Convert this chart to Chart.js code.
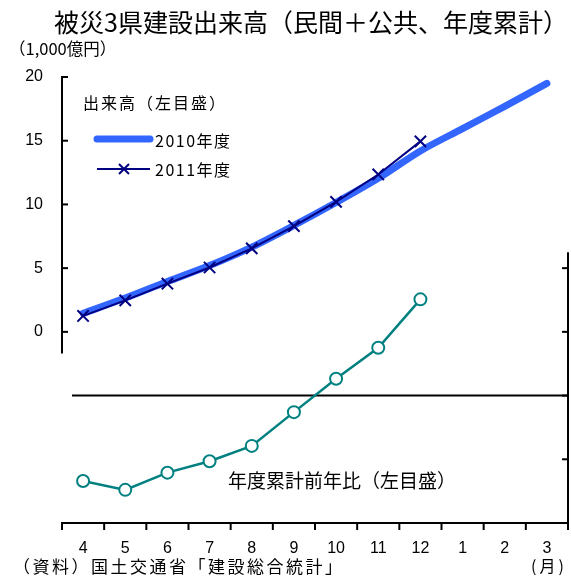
<!DOCTYPE html>
<html>
<head>
<meta charset="utf-8">
<script src="https://cdn.jsdelivr.net/npm/chart.js@4.4.1/dist/chart.umd.min.js"></script>
<style>
  html, body { margin: 0; padding: 0; background: #fff; }
  #wrap { position: relative; width: 571px; height: 582px; }
  .t { position: absolute; font-family: "Noto Sans CJK JP", sans-serif; color: #000; line-height: 1; white-space: nowrap; }
</style>
</head>
<body>
<div id="wrap">
  <canvas id="chart" width="571" height="582"></canvas>
  <div class="t" style="left:54px;top:9px;font-size:25px;">被災3県建設出来高（民間＋公共、年度累計）</div>
  <div class="t" style="left:9px;top:40px;font-size:16.5px;">（1,000億円）</div>
  <div class="t" style="left:83px;top:94px;font-size:16px;letter-spacing:2px;">出来高（左目盛）</div>
  <div class="t" style="left:155px;top:132px;font-size:16px;letter-spacing:1.5px;">2010年度</div>
  <div class="t" style="left:155px;top:161px;font-size:16px;letter-spacing:1.5px;">2011年度</div>
  <div class="t" style="left:228px;top:470px;font-size:19px;">年度累計前年比（左目盛）</div>
  <div class="t" style="left:13px;top:557px;font-size:17px;letter-spacing:2.5px;">（資料）国土交通省「建設総合統計」</div>
  <div class="t" style="left:531px;top:557px;font-size:16px;letter-spacing:3px;">(月)</div>
</div>
<script>
// Months of the fiscal year (April to March)
const MONTHS = ['4', '5', '6', '7', '8', '9', '10', '11', '12', '1', '2', '3'];

// Cumulative construction output, 1,000 oku yen (left scale)
const FY2010 = [1.45, 2.65, 3.95, 5.2, 6.65, 8.35, 10.15, 12.05, 14.2, 15.95, 17.7, 19.5];
const FY2011 = [1.25, 2.47, 3.78, 5.05, 6.55, 8.3, 10.2, 12.35, 14.95, null, null, null];

// Year-on-year change of the cumulative total, % (lower, unlabeled scale)
const YOY = [-13.4, -14.8, -12.1, -10.3, -7.9, -2.6, 2.65, 7.5, 15.1, null, null, null];

// Tick values
const Y_TICKS = [0, 5, 10, 15, 20];
const Y2_TICKS = [-20, -10, 0, 10, 20];

/**
 * Axis frame drawn by hand: the left scale only spans the upper block,
 * the right scale only the lower block, ticks point inward.
 */
const framePlugin = {
    id: 'frame',
    beforeDatasetsDraw(chart) {
        const { ctx, chartArea: a, scales: { y, y2 } } = chart;
        const line = (x1, y1, x2, y2_) => {
            ctx.beginPath();
            ctx.moveTo(x1, y1);
            ctx.lineTo(x2, y2_);
            ctx.stroke();
        };
        ctx.save();
        ctx.strokeStyle = '#000';
        ctx.lineWidth = 2;

        // left axis (upper part)
        line(a.left, y.getPixelForValue(20) - 1, a.left, y.getPixelForValue(-1.7));
        Y_TICKS.forEach(v => {
            const p = y.getPixelForValue(v);
            line(a.left, p, a.left + 6, p);
        });

        // right axis (lower part)
        line(a.right, y2.getPixelForValue(22.5), a.right, a.bottom);
        Y2_TICKS.forEach(v => {
            const p = y2.getPixelForValue(v);
            line(a.right - 6, p, a.right, p);
        });

        // zero line of the year-on-year series
        const z = y2.getPixelForValue(0);
        line(a.left + 10, z, a.right, z);

        // category axis
        line(a.left - 1, a.bottom, a.right + 1, a.bottom);
        const step = a.width / MONTHS.length;
        for (let i = 0; i <= MONTHS.length; i++) {
            const px = a.left + i * step;
            line(px, a.bottom, px, a.bottom + 7);
        }
        ctx.restore();
    },
    afterDatasetsDraw(chart) {
        // legend samples
        const ctx = chart.ctx;
        ctx.save();
        ctx.lineCap = 'round';
        ctx.strokeStyle = '#3366FF';
        ctx.lineWidth = 7;
        ctx.beginPath();
        ctx.moveTo(97, 139);
        ctx.lineTo(150, 139);
        ctx.stroke();

        ctx.lineCap = 'butt';
        ctx.strokeStyle = '#000080';
        ctx.lineWidth = 2;
        ctx.beginPath();
        ctx.moveTo(97, 169);
        ctx.lineTo(150, 169);
        ctx.moveTo(119, 164);
        ctx.lineTo(129, 174);
        ctx.moveTo(129, 164);
        ctx.lineTo(119, 174);
        ctx.stroke();
        ctx.restore();
    }
};

Chart.defaults.font.family = '"Liberation Sans", Arial, sans-serif';
Chart.defaults.color = '#000';

new Chart(document.getElementById('chart'), {
    type: 'line',
    data: {
        labels: MONTHS,
        datasets: [
            {
                label: '年度累計前年比',
                data: YOY,
                yAxisID: 'y2',
                borderColor: '#008080',
                borderWidth: 2.5,
                pointStyle: 'circle',
                pointRadius: 6,
                pointBorderWidth: 2,
                pointBackgroundColor: '#fff',
                pointBorderColor: '#008080',
                tension: 0,
                order: 3
            },
            {
                label: '2010年度',
                data: FY2010,
                yAxisID: 'y',
                borderColor: '#3366FF',
                borderWidth: 7,
                borderCapStyle: 'round',
                borderJoinStyle: 'round',
                pointRadius: 0,
                tension: 0.3,
                order: 2
            },
            {
                label: '2011年度',
                data: FY2011,
                yAxisID: 'y',
                borderColor: '#000080',
                borderWidth: 2,
                pointStyle: 'crossRot',
                pointRadius: 8,
                pointBorderWidth: 2,
                pointBorderColor: '#000080',
                tension: 0,
                order: 1
            }
        ]
    },
    options: {
        responsive: false,
        animation: false,
        devicePixelRatio: 1,
        layout: { autoPadding: false, padding: { top: 77, left: 0, right: 0, bottom: 0 } },
        plugins: {
            legend: { display: false },
            tooltip: { enabled: false },
            title: { display: false }
        },
        scales: {
            x: {
                type: 'category',
                offset: true,
                grid: { display: false, drawTicks: false },
                border: { display: false },
                ticks: { font: { size: 16 }, padding: 16, maxRotation: 0, autoSkip: false },
                afterFit: s => {
                    s.height = 59;
                    s.paddingLeft = 0;
                    s.paddingRight = 0;
                }
            },
            y: {
                position: 'left',
                min: -15,
                max: 20,
                grid: { display: false, drawTicks: false },
                border: { display: false },
                ticks: {
                    stepSize: 5,
                    font: { size: 16 },
                    padding: 19,
                    callback: v => (v >= 0 ? v : '')
                },
                afterFit: s => {
                    s.width = 62;
                    s.paddingTop = 0;
                    s.paddingBottom = 0;
                }
            },
            y2: {
                position: 'right',
                min: -20,
                max: 50,
                grid: { display: false, drawTicks: false },
                border: { display: false },
                ticks: { display: false },
                afterFit: s => { s.width = 3; }
            }
        }
    },
    plugins: [framePlugin]
});
</script>
</body>
</html>
